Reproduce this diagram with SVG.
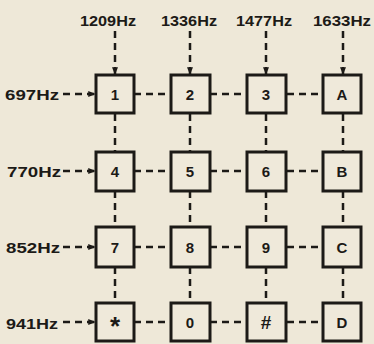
<svg xmlns="http://www.w3.org/2000/svg" width="374" height="344" viewBox="0 0 374 344">
<defs>
<marker id="ah" viewBox="0 0 10 10" refX="9" refY="5" markerWidth="3" markerHeight="3" orient="auto" markerUnits="strokeWidth">
<path d="M0,1 L10,5 L0,9 Z" fill="#1c1a17"/>
</marker>
<style>
.bg{fill:#eee8d8}
.box{fill:#efe9da;stroke:#1c1a17;stroke-width:3}
.k{font-family:"Liberation Sans",Arial,sans-serif;font-weight:bold;font-size:15px;fill:#1c1a17;text-anchor:middle}
.lab{font-family:"Liberation Sans",Arial,sans-serif;font-weight:bold;font-size:15px;fill:#1c1a17}
.d{stroke:#1c1a17;stroke-width:2.5;stroke-dasharray:7,5;fill:none}
.a{stroke:#1c1a17;stroke-width:2.5;stroke-dasharray:7,5;fill:none;marker-end:url(#ah)}
</style>
</defs>
<rect class="bg" x="0" y="0" width="374" height="344"/>
<g id="labels">
<text class="k" x="108" y="26" textLength="56" lengthAdjust="spacingAndGlyphs">1209Hz</text>
<text class="k" x="189" y="26" textLength="56" lengthAdjust="spacingAndGlyphs">1336Hz</text>
<text class="k" x="264" y="26" textLength="56" lengthAdjust="spacingAndGlyphs">1477Hz</text>
<text class="k" x="342" y="26" textLength="58" lengthAdjust="spacingAndGlyphs">1633Hz</text>
<text class="lab" x="5" y="100" textLength="54" lengthAdjust="spacingAndGlyphs">697Hz</text>
<text class="lab" x="7" y="177" textLength="54" lengthAdjust="spacingAndGlyphs">770Hz</text>
<text class="lab" x="6" y="253" textLength="54" lengthAdjust="spacingAndGlyphs">852Hz</text>
<text class="lab" x="6" y="329" textLength="52" lengthAdjust="spacingAndGlyphs">941Hz</text>
</g>
<g id="connectors">
<line class="a" x1="115" y1="31" x2="115" y2="74"/>
<line class="a" x1="190" y1="31" x2="190" y2="74"/>
<line class="a" x1="266" y1="31" x2="266" y2="74"/>
<line class="a" x1="343" y1="31" x2="343" y2="74"/>
<line class="a" x1="63" y1="94" x2="95" y2="94"/>
<line class="a" x1="63" y1="171" x2="95" y2="171"/>
<line class="a" x1="63" y1="247" x2="95" y2="247"/>
<line class="a" x1="63" y1="322" x2="95" y2="322"/>
<path class="d" d="M134,94 H171 M210,94 H247 M287,94 H323 M134,171 H171 M210,171 H247 M287,171 H323 M134,247 H171 M210,247 H247 M287,247 H323 M134,322 H171 M210,322 H247 M287,322 H323"/>
<path class="d" d="M115,114 V152 M190,114 V152 M266,114 V152 M343,114 V152 M115,191 V227 M190,191 V227 M266,191 V227 M343,191 V227 M115,267 V303 M190,267 V303 M266,267 V303 M343,267 V303"/>
</g>
<g id="k1"><rect class="box" x="96" y="75" width="38" height="38"/><text class="k" x="115" y="100">1</text></g>
<g id="k2"><rect class="box" x="171" y="75" width="39" height="38"/><text class="k" x="190" y="100">2</text></g>
<g id="k3"><rect class="box" x="247" y="75" width="39" height="38"/><text class="k" x="266" y="100">3</text></g>
<g id="kA"><rect class="box" x="323" y="75" width="38" height="38"/><text class="k" x="342" y="100">A</text></g>
<g id="k4"><rect class="box" x="96" y="152" width="38" height="39"/><text class="k" x="115" y="177">4</text></g>
<g id="k5"><rect class="box" x="171" y="152" width="39" height="39"/><text class="k" x="190" y="177">5</text></g>
<g id="k6"><rect class="box" x="247" y="152" width="39" height="39"/><text class="k" x="266" y="177">6</text></g>
<g id="kB"><rect class="box" x="323" y="152" width="38" height="39"/><text class="k" x="342" y="177">B</text></g>
<g id="k7"><rect class="box" x="96" y="227" width="38" height="40"/><text class="k" x="115" y="253">7</text></g>
<g id="k8"><rect class="box" x="171" y="227" width="39" height="40"/><text class="k" x="190" y="253">8</text></g>
<g id="k9"><rect class="box" x="247" y="227" width="39" height="40"/><text class="k" x="266" y="253">9</text></g>
<g id="kC"><rect class="box" x="323" y="227" width="38" height="40"/><text class="k" x="342" y="253">C</text></g>
<g id="kstar"><rect class="box" x="96" y="303" width="38" height="38"/><text class="k" x="115" y="335" style="font-size:26px">*</text></g>
<g id="k0"><rect class="box" x="171" y="303" width="39" height="38"/><text class="k" x="190" y="328">0</text></g>
<g id="khash"><rect class="box" x="247" y="303" width="39" height="38"/><text class="k" x="266" y="329" style="font-size:19px">#</text></g>
<g id="kD"><rect class="box" x="323" y="303" width="38" height="38"/><text class="k" x="342" y="328">D</text></g>
</svg>
